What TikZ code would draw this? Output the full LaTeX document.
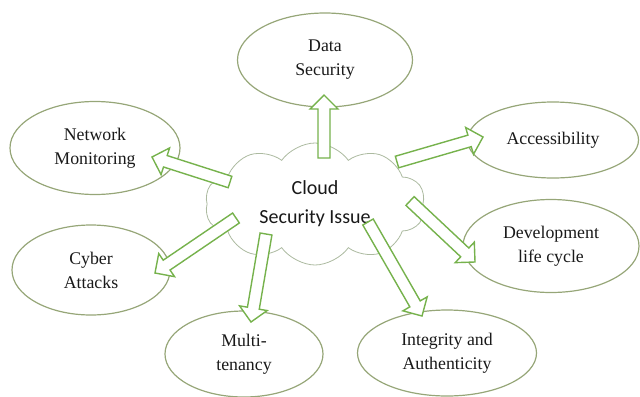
\documentclass[tikz,border=0pt]{standalone}
\usepackage{fontspec}
\setmainfont{Liberation Serif}
\newfontfamily\cloudfont{Carlito}
\usetikzlibrary{shapes, calc}

\definecolor{rimgreen}{RGB}{150,166,120}
\definecolor{arrowgreen}{RGB}{118,178,76}
\definecolor{cloudrim}{RGB}{172,186,160}

% hollow block arrow from #1 (tail) to #2 (tip)
\newcommand{\blockarrow}[2]{%
  \draw[blockarrow] let \p1=(#1), \p2=(#2), \n1={atan2(\y2-\y1,\x2-\x1)},
    \n2={veclen(\x2-\x1,\y2-\y1)} in
    ($(#1)+(\n1+90:3pt)$) -- ++(\n1:\n2-7pt) -- ++(\n1+90:4pt) -- (#2)
    -- ($(#2)+(\n1+180:7pt)+(\n1-90:7pt)$) -- ++(\n1+90:4pt)
    -- ($(#1)+(\n1-90:3pt)$) -- cycle;}

\begin{document}
\begin{tikzpicture}[x=0.5pt, y=-0.5pt,
  topic/.style={ellipse, draw=rimgreen, line width=0.6pt, align=center, inner sep=0pt,
    text=black!90, font=\fontsize{8.9}{12}\selectfont},
  blockarrow/.style={draw=arrowgreen, fill=white, line width=0.7pt, line join=miter}]
  \useasboundingbox (0,0) rectangle (640,396);

  \node[cloud, cloud puffs=10, cloud puff arc=110, cloud ignores aspect, draw=cloudrim, fill=white,
    inner sep=0pt, minimum width=110pt, minimum height=61pt, align=center, text=black!90,
    font=\cloudfont\fontsize{10}{14.5}\selectfont] (cloud) at (315,204) {Cloud\\Security Issue};

  \node[topic, minimum width=87.5pt, minimum height=47pt] (data) at (325,60) {Data\\Security};
  \node[topic, minimum width=85pt, minimum height=46.5pt] (network) at (95,148) {Network\\Monitoring};
  \node[topic, minimum width=85.5pt, minimum height=38pt] (access) at (553,140) {Accessibility};
  \node[topic, minimum width=88pt, minimum height=46.5pt] (devel) at (551,246) {Development\\life cycle};
  \node[topic, minimum width=79pt, minimum height=45pt] (cyber) at (91,270) {Cyber\\Attacks};
  \node[topic, minimum width=79pt, minimum height=43pt] (multi) at (244,354) {Multi-\\tenancy};
  \node[topic, minimum width=89.5pt, minimum height=43pt] (integ) at (447,353) {Integrity and\\Authenticity};

  % tails inside the cloud, tips inside the ellipses
  \coordinate (t-data) at (324,158);    \coordinate (h-data) at (324,95);
  \coordinate (t-access) at (397,162);  \coordinate (h-access) at (483,137);
  \coordinate (t-network) at (230,182); \coordinate (h-network) at (152,157);
  \coordinate (t-cyber) at (236,218);   \coordinate (h-cyber) at (155,273);
  \coordinate (t-multi) at (266,234);   \coordinate (h-multi) at (251,322);
  \coordinate (t-integ) at (368,222);   \coordinate (h-integ) at (422,316);
  \coordinate (t-devel) at (410,201);   \coordinate (h-devel) at (475,262);

  \foreach \k in {data, access, network, cyber, multi, integ, devel}
    \blockarrow{t-\k}{h-\k};

\end{tikzpicture}
\end{document}
